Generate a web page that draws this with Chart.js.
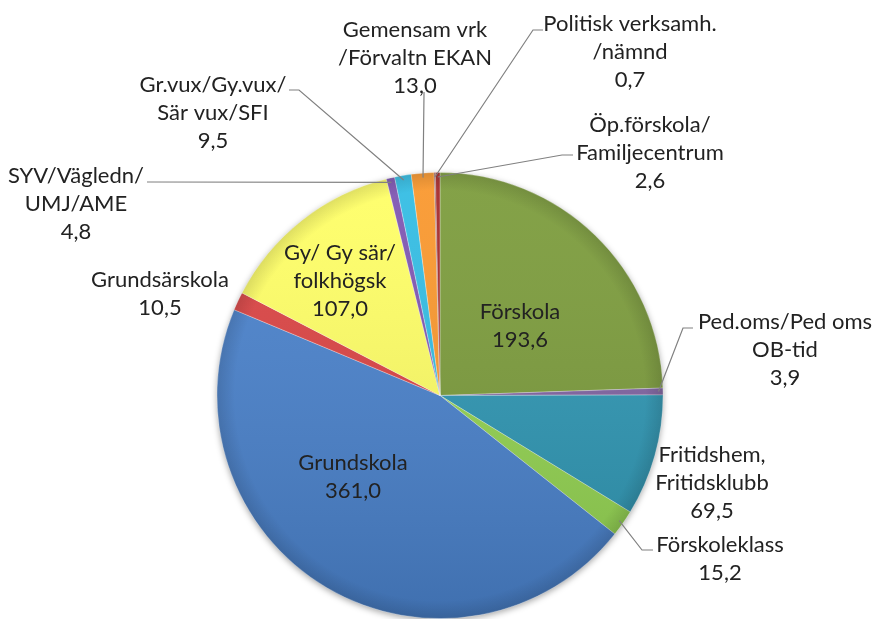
<!DOCTYPE html>
<html lang="sv">
<head>
    <meta charset="UTF-8">
    <title>Kostnader per verksamhet</title>
    <script src="https://cdn.jsdelivr.net/npm/chart.js"></script>
    <style>
        html, body { margin: 0; padding: 0; background: #fff; overflow: hidden; }
        #wrap { width: 874px; height: 619px; }
    </style>
</head>
<body>
    <div id="wrap">
        <canvas id="pieChart" width="874" height="619"></canvas>
    </div>

    <script>
        // Data, clockwise from 12 o'clock
        const categories = [
            ['Förskola'],
            ['Ped.oms/Ped oms', 'OB-tid'],
            ['Fritidshem,', 'Fritidsklubb'],
            ['Förskoleklass'],
            ['Grundskola'],
            ['Grundsärskola'],
            ['Gy/ Gy sär/', 'folkhögsk'],
            ['SYV/Vägledn/', 'UMJ/AME'],
            ['Gr.vux/Gy.vux/', 'Sär vux/SFI'],
            ['Gemensam vrk', '/Förvaltn EKAN'],
            ['Politisk verksamh.', '/nämnd'],
            ['Öp.förskola/', 'Familjecentrum']
        ];
        const values = [193.6, 3.9, 69.5, 15.2, 361.0, 10.5, 107.0, 4.8, 9.5, 13.0, 0.7, 2.6];

        const sliceColors = [
            '#7C9C3C', '#8064A2', '#2F97B4', '#94D452', '#4A82CC', '#DB4444',
            '#FFFF66', '#7F56B2', '#33BDE4', '#FA982E', '#7F3F3F', '#A52A2A'
        ];

        // where each label sits (centre of first line) and its leader elbow, if any
        const labelLayout = [
            { x: 520, y: 312 },
            { x: 785, y: 322, leader: [[693, 328], [683, 328]] },
            { x: 712, y: 455 },
            { x: 720, y: 545, leader: [[653, 550], [642, 550]] },
            { x: 353, y: 463 },
            { x: 160, y: 280 },
            { x: 340, y: 253 },
            { x: 76, y: 176, leader: [[147, 182], [150, 182]] },
            { x: 213, y: 85, leader: [[289, 90], [299, 90]] },
            { x: 415, y: 30, leader: [[424, 92], [424, 94]] },
            { x: 630, y: 24, leader: [[543, 30], [533, 30]] },
            { x: 650, y: 125, leader: [[573, 155], [562, 155]] }
        ];

        const fmt = v => v.toFixed(1).replace('.', ',');

        // soft shadow under the pie
        const shadowPlugin = {
            id: 'pieShadow',
            beforeDatasetsDraw(chart) {
                const arc = chart.getDatasetMeta(0).data[0];
                if (!arc) return;
                const ctx = chart.ctx;
                ctx.save();
                ctx.shadowColor = 'rgba(0,0,0,0.35)';
                ctx.shadowBlur = 6;
                ctx.shadowOffsetY = 2;
                ctx.fillStyle = '#fff';
                ctx.beginPath();
                ctx.arc(arc.x, arc.y, arc.outerRadius, 0, Math.PI * 2);
                ctx.fill();
                ctx.restore();
            }
        };

        // shading + labels with leader lines
        const labelPlugin = {
            id: 'pieLabels',
            afterDatasetsDraw(chart) {
                const ctx = chart.ctx;
                const meta = chart.getDatasetMeta(0);
                const first = meta.data[0];
                const R = first.outerRadius;

                ctx.save();
                ctx.beginPath();
                ctx.arc(first.x, first.y, R, 0, Math.PI * 2);
                ctx.clip();
                const lin = ctx.createLinearGradient(0, first.y - R, 0, first.y + R);
                lin.addColorStop(0, 'rgba(255,255,255,0.06)');
                lin.addColorStop(1, 'rgba(0,0,0,0.14)');
                ctx.fillStyle = lin;
                ctx.fillRect(first.x - R, first.y - R, 2 * R, 2 * R);
                const g = ctx.createRadialGradient(first.x, first.y, R * 0.92, first.x, first.y, R);
                g.addColorStop(0, 'rgba(0,0,0,0)');
                g.addColorStop(1, 'rgba(0,0,0,0.12)');
                ctx.fillStyle = g;
                ctx.fillRect(first.x - R, first.y - R, 2 * R, 2 * R);
                ctx.restore();

                ctx.save();
                ctx.font = '22px Lato';
                ctx.textAlign = 'center';
                ctx.textBaseline = 'middle';
                meta.data.forEach((arc, i) => {
                    const p = labelLayout[i];
                    const lines = categories[i].concat(fmt(values[i]));
                    ctx.fillStyle = '#222';
                    lines.forEach((t, j) => ctx.fillText(t, p.x, p.y + j * 28));

                    if (p.leader) {
                        const mid = (arc.startAngle + arc.endAngle) / 2;
                        const r = arc.outerRadius * 0.98;
                        const ex = arc.x + Math.cos(mid) * r;
                        const ey = arc.y + Math.sin(mid) * r;
                        ctx.strokeStyle = '#808080';
                        ctx.lineWidth = 1.2;
                        ctx.beginPath();
                        ctx.moveTo(p.leader[0][0], p.leader[0][1]);
                        ctx.lineTo(p.leader[1][0], p.leader[1][1]);
                        ctx.lineTo(ex, ey);
                        ctx.stroke();
                    }
                });
                ctx.restore();
            }
        };

        new Chart(document.getElementById('pieChart'), {
            type: 'pie',
            data: {
                labels: categories.map(c => c.join(' ')),
                datasets: [{
                    data: values,
                    backgroundColor: sliceColors,
                    borderColor: 'rgba(255,255,255,0.3)',
                    borderWidth: 1
                }]
            },
            options: {
                responsive: false,
                animation: false,
                layout: { padding: { top: 172, bottom: 0, left: 6, right: 0 } },
                plugins: {
                    legend: { display: false },
                    tooltip: { enabled: false }
                }
            },
            plugins: [shadowPlugin, labelPlugin]
        });
    </script>
</body>
</html>
